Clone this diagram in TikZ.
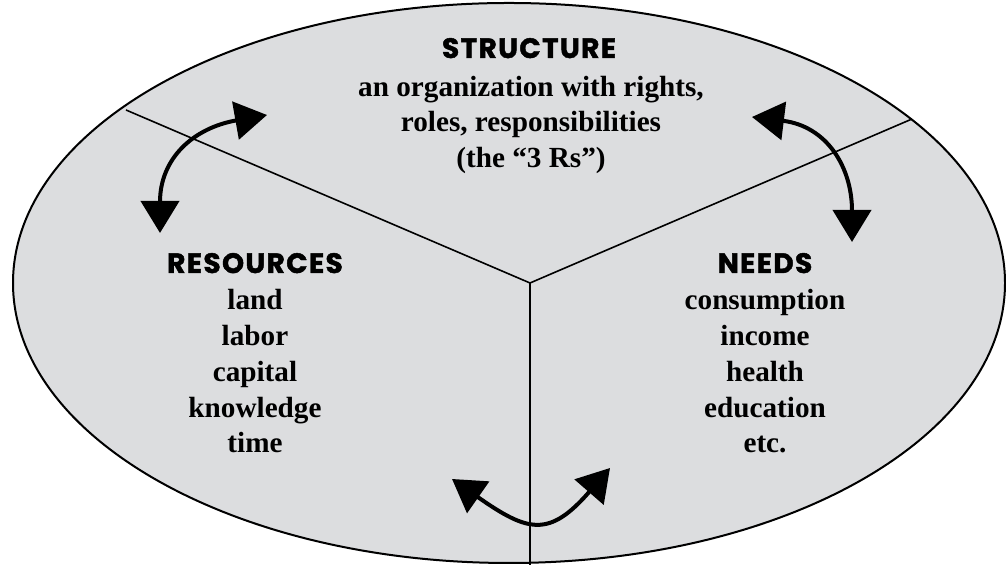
\documentclass[tikz,border=0pt]{standalone}
\usepackage{fontspec}
\setmainfont{Liberation Serif}
\newfontfamily\headfont[BoldFeatures={FakeBold=1.6}, LetterSpace=5]{Poppins}
\usetikzlibrary{arrows.meta}
\definecolor{discgray}{RGB}{220,221,223}
\tikzset{
  heading/.style={anchor=base, font=\headfont\bfseries\fontsize{14}{16}\selectfont},
  item/.style={anchor=base, font=\bfseries\fontsize{14.6}{17.9}\selectfont},
  linkarrow/.style={line width=2pt, {Triangle[length=16pt,width=19pt]}-{Triangle[length=16pt,width=19pt]}},
  divider/.style={line width=0.8pt}
}

\begin{document}
\begin{tikzpicture}[x=0.5pt, y=0.5pt]
  \useasboundingbox (0,0) rectangle (1006,565);

  % the disc and its three parts
  \filldraw[fill=discgray, line width=1pt] (509,282) ellipse [x radius=496, y radius=280];
  \coordinate (hub) at (530,282);
  \coordinate (rimL) at (126,455);
  \coordinate (rimR) at (912,446);
  \coordinate (rimB) at (530,0);
  \draw[divider] (rimL) -- (hub) -- (rimR);
  \draw[divider] (hub) -- (rimB);

  % two-way arrows across the dividers
  \coordinate (a1) at (160,332);
  \coordinate (a2) at (267,450);
  \draw[linkarrow] (a1) to[out=90, in=190, looseness=1.2] (a2);
  \coordinate (b1) at (752,448);
  \coordinate (b2) at (852,323);
  \draw[linkarrow] (b1) to[out=-7, in=90, looseness=1.2] (b2);
  \coordinate (c1) at (452,86);
  \coordinate (c2) at (610,97);
  \draw[linkarrow] (c1) to[out=-35, in=-131, looseness=1.5] (c2);

  % texts
  \node[heading] (struct) at (529,507) {STRUCTURE};
  \foreach \t [count=\i] in {{an organization with rights,},{roles, responsibilities},{(the ``3 Rs'')}}
    \node[item] (struct\i) at (531, 503.7-35.3*\i) {\t};

  \node[heading] (res) at (255,292) {RESOURCES};
  \foreach \t [count=\i] in {land,labor,capital,knowledge,time}
    \node[item] (res\i) at (255, 290.7-35.7*\i) {\t};

  \node[heading] (needs) at (765,292) {NEEDS};
  \foreach \t [count=\i] in {consumption,income,health,education,etc.}
    \node[item] (needs\i) at (765, 290.7-35.7*\i) {\t};

\end{tikzpicture}
\end{document}
